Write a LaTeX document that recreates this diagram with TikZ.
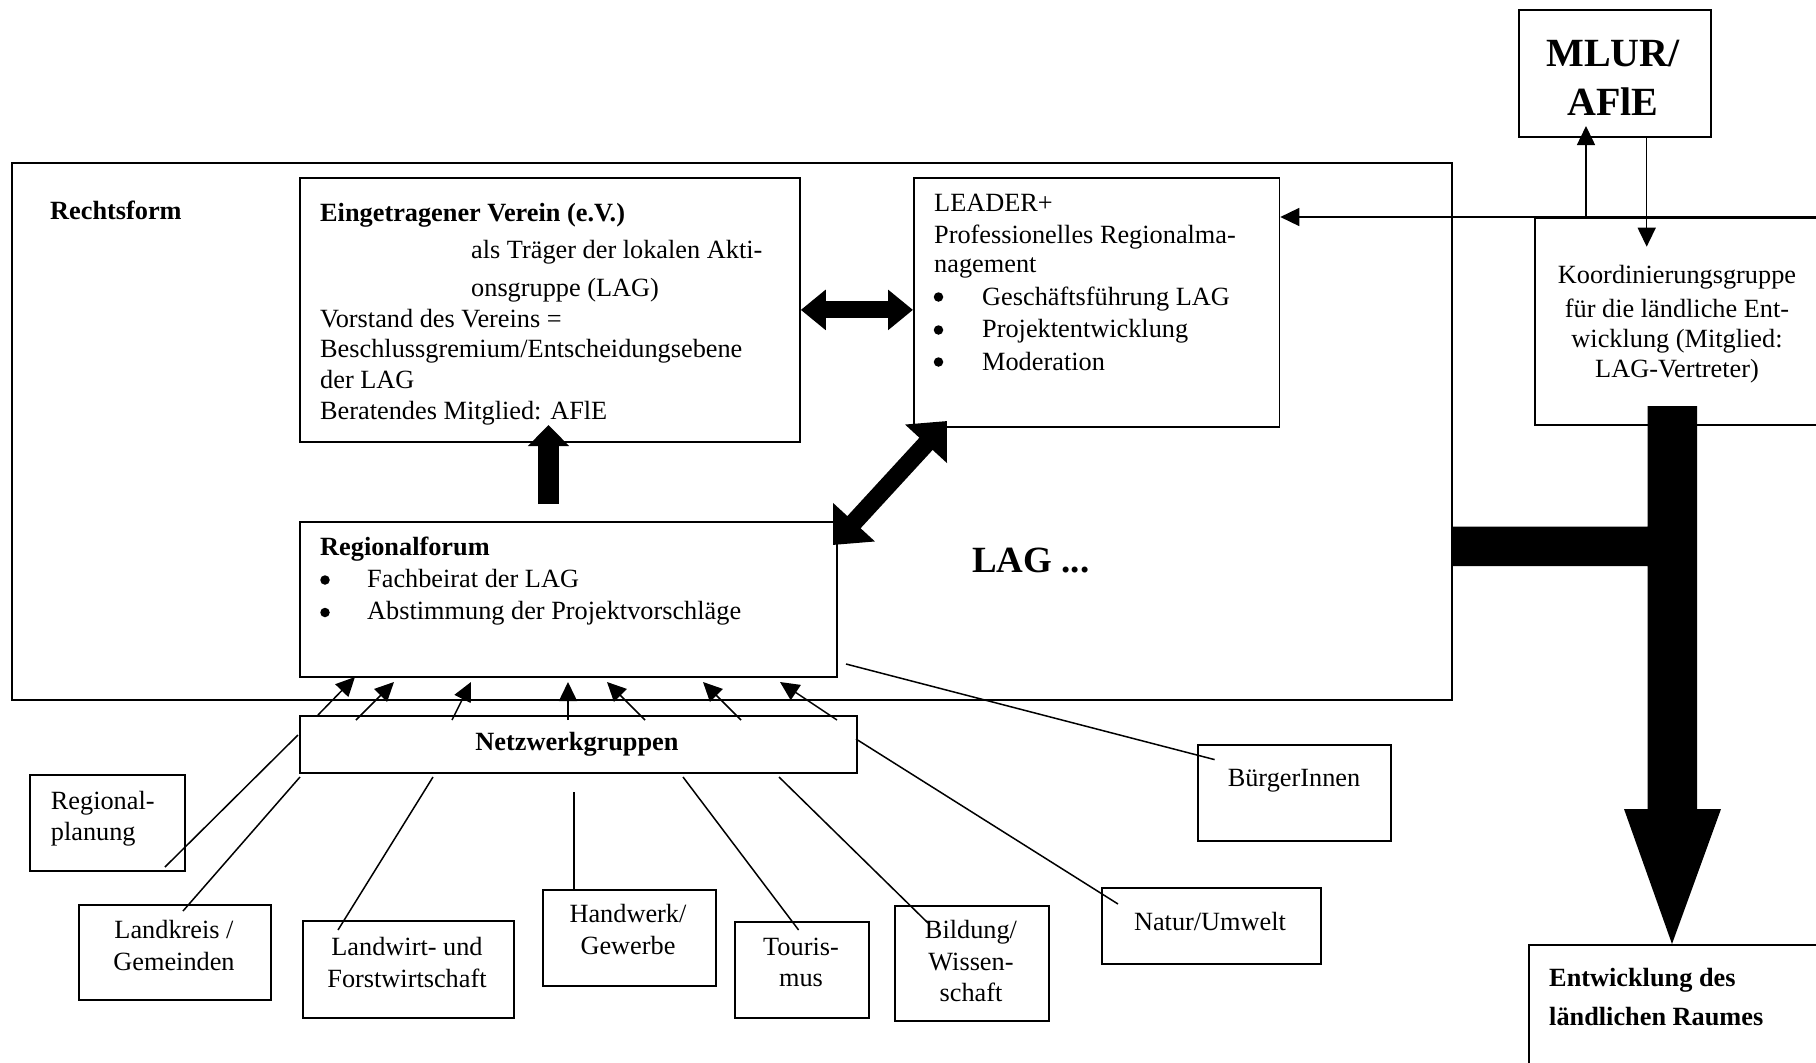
\documentclass[tikz,border=0pt]{standalone}
\usepackage{fontspec}
\setmainfont{Liberation Serif}
\usetikzlibrary{arrows.meta}
\newcommand\fsn{\fontsize{26.3}{31}\selectfont}
\newcommand\fsbig{\fontsize{40}{46}\selectfont\bfseries}
\newcommand\fslag{\fontsize{37}{44}\selectfont\bfseries}
\begin{document}
\begin{tikzpicture}[x=1pt,y=-1pt,
  box/.style={draw, line width=1.8pt, inner sep=0pt, anchor=north west},
  lt/.style={inner sep=0pt, anchor=base west, font=\fsn},
  ct/.style={inner sep=0pt, anchor=base, font=\fsn},
  bul/.style={circle, fill, inner sep=0pt, minimum size=9.5pt},
  ln/.style={line width=1.5pt},
  arr/.style={line width=1.5pt, -{Triangle[length=19pt,width=18pt]}},
  bigdbl/.style={line width=17pt, {Triangle[length=25pt,width=39pt]}-{Triangle[length=25pt,width=39pt]}},
  diagdbl/.style={line width=18pt, {Triangle[length=31pt,width=55pt]}-{Triangle[length=31pt,width=55pt]}},
  bigup/.style={line width=21pt, -{Triangle[length=21pt,width=40pt]}}
]
\useasboundingbox (0,0) rectangle (1816,1063);
\clip (0,0) rectangle (1816,1063);
\fill[white] (0,0) rectangle (1816,1063);

% boxes
\node[box, minimum width=1440pt, minimum height=537pt] (lag) at (11,162) {};
\node[box, minimum width=500pt, minimum height=264pt] (ev) at (299,177) {};
\node[box, minimum width=365.5pt, minimum height=249pt] (leader) at (913,177) {};
\node[box, minimum width=537pt, minimum height=155pt] (rf) at (299,521) {};
\node[box, minimum width=557pt, minimum height=57pt] (nw) at (299,715) {};
\node[box, minimum width=192pt, minimum height=127pt] (mlur) at (1518,9) {};
\node[box, minimum width=300pt, minimum height=207pt] (koord) at (1534,217) {};
\node[box, minimum width=155pt, minimum height=96pt] (rp) at (29,774) {};
\node[box, minimum width=192pt, minimum height=95pt] (lk) at (78,904) {};
\node[box, minimum width=211pt, minimum height=97pt] (lw) at (302,920) {};
\node[box, minimum width=173pt, minimum height=96pt] (hw) at (542,889) {};
\node[box, minimum width=134pt, minimum height=96pt] (tour) at (734,921) {};
\node[box, minimum width=154pt, minimum height=115pt] (bild) at (894,905) {};
\node[box, minimum width=219pt, minimum height=76pt] (natur) at (1101,887) {};
\node[box, minimum width=193pt, minimum height=96pt] (bue) at (1197,744) {};
\node[box, minimum width=300pt, minimum height=150pt] (entw) at (1528,944) {};

% texts
\node[lt, font=\fsn\bfseries] (tRecht) at (50,219) {Rechtsform};
\node[lt, font=\fsn\bfseries] (ev1) at (320,221) {Eingetragener Verein (e.V.)};
\node[lt] (ev2) at (471,258) {als Träger der lokalen Akti-};
\node[lt] (ev3) at (471,296) {onsgruppe (LAG)};
\node[lt] (ev4) at (320,327) {Vorstand des Vereins =};
\node[lt] (ev5) at (320,357) {Beschlussgremium/Entscheidungsebene};
\node[lt] (ev6) at (320,388) {der LAG};
\node[lt] (ev7) at (320,419) {Beratendes Mitglied: AFlE};

\node[lt] (le1) at (934,211) {LEADER+};
\node[lt] (le2) at (934,243) {Professionelles Regionalma-};
\node[lt] (le3) at (934,272) {nagement};
\node[bul] (leb1) at (938.5,297) {};
\node[bul] (leb2) at (938.5,330) {};
\node[bul] (leb3) at (938.5,362) {};
\node[lt] (le4) at (982,305) {Geschäftsführung LAG};
\node[lt] (le5) at (982,337) {Projektentwicklung};
\node[lt] (le6) at (982,370) {Moderation};

\node[ct] (ko1) at (1677,283) {Koordinierungsgruppe};
\node[ct] (ko2) at (1677,317) {für die ländliche Ent-};
\node[ct] (ko3) at (1677,347) {wicklung (Mitglied:};
\node[ct] (ko4) at (1677,377) {LAG-Vertreter)};

\node[ct, font=\fsbig] (ml1) at (1613,66) {MLUR/};
\node[ct, font=\fsbig] (ml2) at (1613,115) {AFlE};

\node[lt, font=\fslag] (tLAG) at (972,572) {LAG ...};

\node[lt, font=\fsn\bfseries] (rf1) at (320,555) {Regionalforum};
\node[bul] (rfb1) at (325,580) {};
\node[bul] (rfb2) at (325,612.5) {};
\node[lt] (rf2) at (367,587) {Fachbeirat der LAG};
\node[lt] (rf3) at (367,619) {Abstimmung der Projektvorschläge};

\node[ct, font=\fsn\bfseries] (nw1) at (577,750) {Netzwerkgruppen};

\node[lt] (rp1) at (50.7,809) {Regional-};
\node[lt] (rp2) at (50.7,840) {planung};
\node[ct] (lk1) at (174,938) {Landkreis /};
\node[ct] (lk2) at (174,970.7) {Gemeinden};
\node[ct] (lw1) at (407,955) {Landwirt- und};
\node[ct] (lw2) at (407,987) {Forstwirtschaft};
\node[ct] (hw1) at (628,922) {Handwerk/};
\node[ct] (hw2) at (628,954) {Gewerbe};
\node[ct] (to1) at (801,955) {Touris-};
\node[ct] (to2) at (801,986) {mus};
\node[ct] (bi1) at (971,938) {Bildung/};
\node[ct] (bi2) at (971,970) {Wissen-};
\node[ct] (bi3) at (971,1001) {schaft};
\node[ct] (na1) at (1210,930) {Natur/Umwelt};
\node[ct] (bu1) at (1294,786.5) {BürgerInnen};
\node[lt, font=\fsn\bfseries] (en1) at (1549,986.5) {Entwicklung des};
\node[lt, font=\fsn\bfseries] (en2) at (1549,1025) {ländlichen Raumes};

% coordinates
\coordinate (cRPa) at (165,867);   \coordinate (cRPb) at (298,735);
\coordinate (cLKa) at (183,911);   \coordinate (cLKb) at (300,777);
\coordinate (cLWa) at (338,930);   \coordinate (cLWb) at (433,777);
\coordinate (cHWa) at (574,889);   \coordinate (cHWb) at (574,792);
\coordinate (cTOa) at (798.6,930); \coordinate (cTOb) at (683,777);
\coordinate (cBIa) at (928,923);   \coordinate (cBIb) at (779,777);
\coordinate (cNAa) at (1118,904);  \coordinate (cNAb) at (856,739);
\coordinate (cBUa) at (1214.6,759.6); \coordinate (cBUb) at (846,664);

\coordinate (a1s) at (318,715); \coordinate (a1e) at (355,677);
\coordinate (a2s) at (356,720); \coordinate (a2e) at (394,682);
\coordinate (a3s) at (452,720); \coordinate (a3e) at (471,682);
\coordinate (a4s) at (568,720); \coordinate (a4e) at (568,682);
\coordinate (a5s) at (645,720); \coordinate (a5e) at (607,682);
\coordinate (a6s) at (741,720); \coordinate (a6e) at (703,682);
\coordinate (a7s) at (837,720); \coordinate (a7e) at (780,682);

\coordinate (mUp) at (1586,217); \coordinate (mUpTip) at (1586,126);
\coordinate (mDn) at (1646.7,136); \coordinate (mDnTip) at (1646.7,246.7);

\coordinate (upS) at (548.5,504); \coordinate (upT) at (548.5,425);
\coordinate (dgA) at (947,421); \coordinate (dgB) at (833,545);

% thin connectors
\draw[ln] (cRPa) -- (cRPb);
\draw[ln] (cLKa) -- (cLKb);
\draw[ln] (cLWa) -- (cLWb);
\draw[ln] (cHWa) -- (cHWb);
\draw[ln] (cTOa) -- (cTOb);
\draw[ln] (cBIa) -- (cBIb);
\draw[ln] (cNAa) -- (cNAb);
\draw[ln] (cBUa) -- (cBUb);

\foreach \i in {1,...,7} {\draw[arr] (a\i s) -- (a\i e);}

\draw[arr] (koord.north east) -- (leader.east |- koord.north);
\draw[arr] (mUp) -- (mUpTip);
\draw[arr] (mDn) -- (mDnTip);

% big arrows
\draw[bigdbl] (ev.east) -- (ev.east -| leader.west);
\draw[bigup] (upS) -- (upT);
\draw[diagdbl] (dgA) -- (dgB);

\fill (lag.east |- 0,526.5) -- (1647.5,526.5) -- (1647.5,406) -- (1697,406) -- (1697,809)
  -- (1721,809) -- (entw.north -| 1672,0) -- (1624,809) -- (1647.5,809) -- (1647.5,566)
  -- (lag.east |- 0,566) -- cycle;
\end{tikzpicture}
\end{document}
